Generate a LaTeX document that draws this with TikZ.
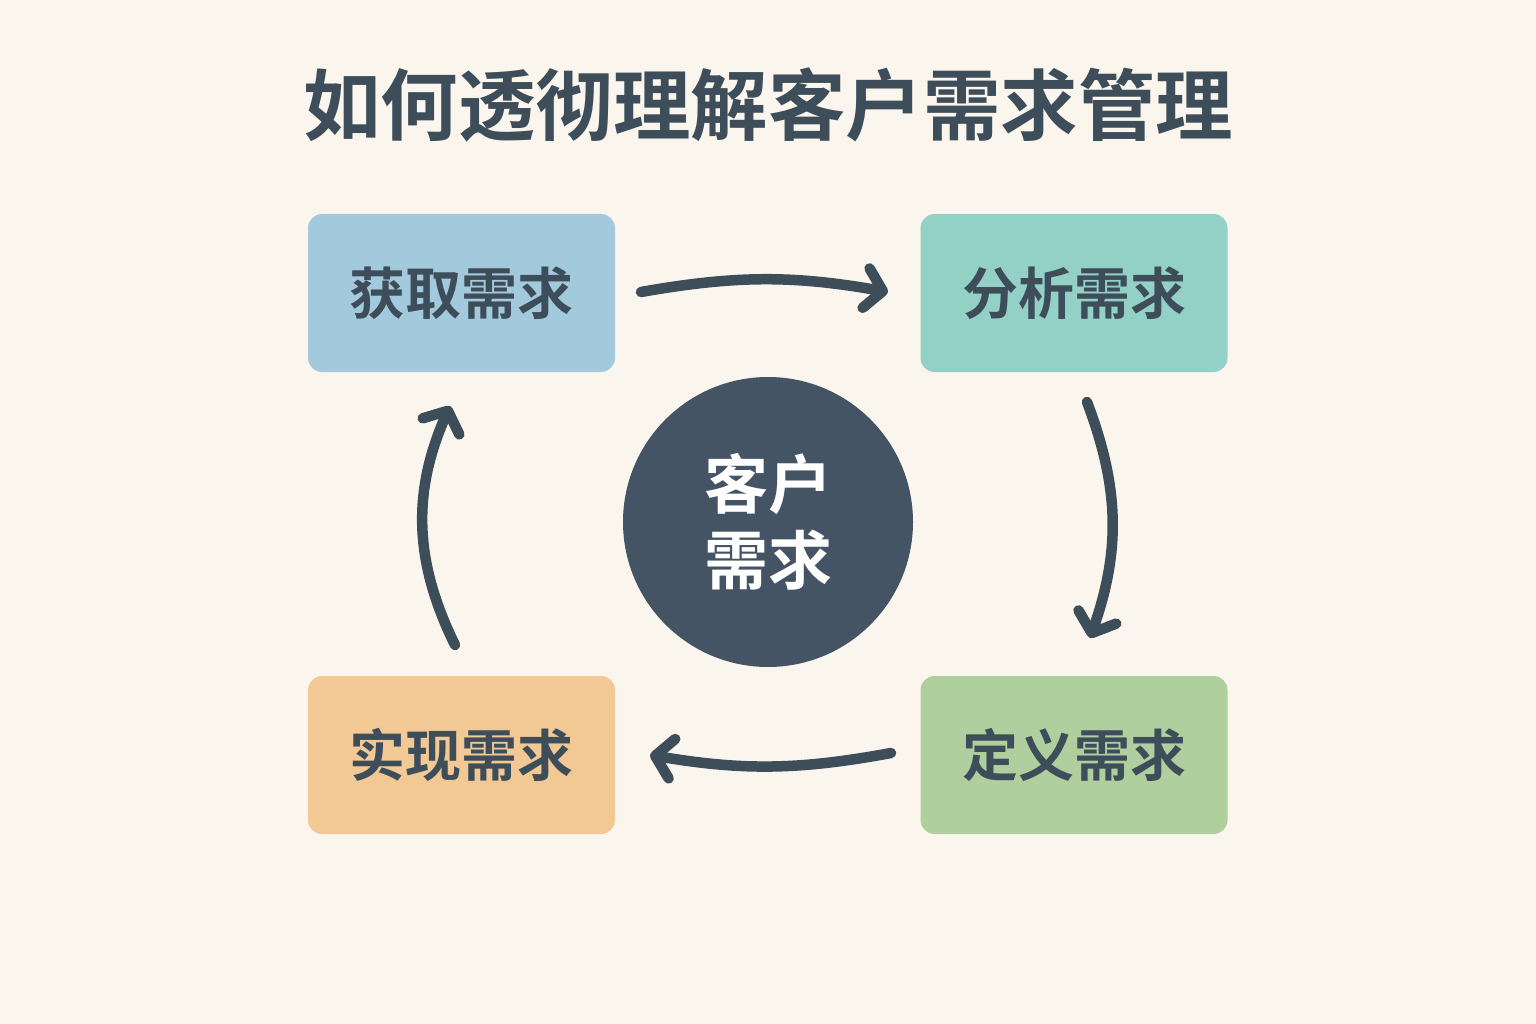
\documentclass[tikz,border=0pt]{standalone}
\usepackage{fontspec}
\newfontfamily\cjk{Noto Sans CJK SC}[BoldFont={* Bold}]
\usetikzlibrary{arrows.meta}
\definecolor{bg}{HTML}{FAF6EE}
\definecolor{ink}{HTML}{3E4D5A}
\definecolor{hub}{HTML}{445464}
\definecolor{cblue}{HTML}{A3C9DD}
\definecolor{cteal}{HTML}{93D1C7}
\definecolor{corange}{HTML}{F2C894}
\definecolor{cgreen}{HTML}{AFCF9E}
\tikzset{
  stagebox/.style={rounded corners=14pt, minimum width=307pt, minimum height=158pt, inner sep=0pt,
    font=\cjk\bfseries\fontsize{56}{60}\selectfont, text=ink},
  flow/.style={draw=ink, line width=10.5pt, line cap=round,
    -{Straight Barb[length=17pt, width=40pt, line cap=round, line join=round]}}
}
\begin{document}
\begin{tikzpicture}[x=1pt,y=-1pt]
\fill[bg] (0,0) rectangle (1536,1024);
\useasboundingbox (0,0) rectangle (1536,1024);
\node[font=\cjk\bfseries\fontsize{77.5}{80}\selectfont, text=ink] (title) at (768,105) {如何透彻理解客户需求管理};
\node[stagebox, fill=cblue] (get) at (461.5,293) {获取需求};
\node[stagebox, fill=cteal] (ana) at (1074,293) {分析需求};
\node[stagebox, fill=cgreen] (def) at (1074,755) {定义需求};
\node[stagebox, fill=corange] (imp) at (461.5,755) {实现需求};
\node[circle, fill=hub, minimum size=290pt, inner sep=0pt, text=white, align=center,
  font=\cjk\bfseries\fontsize{64}{76}\selectfont] (hubn) at (768,522) {客户\\需求};
\coordinate (a1s) at (641,292); \coordinate (a1e) at (888,292);
\coordinate (a2s) at (1087,402); \coordinate (a2e) at (1090,638);
\coordinate (a3s) at (891,753); \coordinate (a3e) at (650,755);
\coordinate (a4s) at (455,645); \coordinate (a4e) at (450,406);
\draw[flow] (a1s) to[bend left=10] (a1e);
\draw[flow] (a2s) to[bend left=20] (a2e);
\draw[flow] (a3s) to[bend left=10] (a3e);
\draw[flow] (a4s) to[bend left=25] (a4e);
\end{tikzpicture}
\end{document}
